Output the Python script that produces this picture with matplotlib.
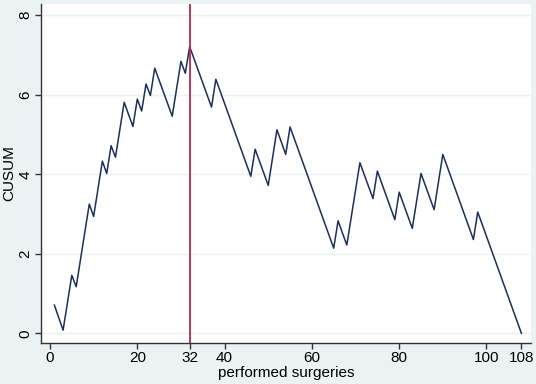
import matplotlib.pyplot as plt

# Turning points of the CUSUM curve
surgery = [1, 3, 5, 6, 9, 10, 12, 13, 14, 15, 17, 19, 20, 21, 22, 23, 24, 28, 30, 31, 32,
           37, 38, 46, 47, 50, 52, 54, 55, 65, 66, 68, 71, 74, 75, 79, 80, 83, 85, 88, 90,
           97, 98, 108]
cusum = [0.71, 0.08, 1.46, 1.17, 3.25, 2.94, 4.33, 4.02, 4.72, 4.43, 5.81, 5.20, 5.89, 5.59,
         6.27, 5.98, 6.67, 5.46, 6.84, 6.54, 7.21,
         5.69, 6.39, 3.95, 4.63, 3.72, 5.12, 4.50, 5.19, 2.14, 2.83, 2.22, 4.29, 3.39, 4.08,
         2.86, 3.55, 2.64, 4.02, 3.11, 4.50, 2.36, 3.05, 0.0]
cut_point = 32
x_ticks = [0, 20, 32, 40, 60, 80, 100, 108]
y_ticks = [0, 2, 4, 6, 8]

plt.rcParams['font.family'] = ['Liberation Sans', 'DejaVu Sans']

fig = plt.figure(figsize=(5.36, 3.84), dpi=100, facecolor='#eaf2f3')
ax = fig.add_axes([41 / 536, 1 - 342.7 / 384, 490 / 536, 339 / 384])
ax.set_facecolor('white')

ax.plot(surgery, cusum, color='#1b2f5c', lw=1.1, zorder=3)
ax.axvline(cut_point, color='#b5284a', lw=1.3, zorder=4)

ax.set_xlim(-2.06, 110.2)
ax.set_ylim(-0.236, 8.29)
ax.set_xticks(x_ticks)
ax.set_yticks(y_ticks)
ax.set_yticklabels([str(v) for v in y_ticks], rotation=90, va='center')
ax.grid(axis='y', color='#eaf2f3', lw=1.0)
ax.set_axisbelow(True)

for s in ['top', 'right']:
    ax.spines[s].set_visible(False)
for s in ['left', 'bottom']:
    ax.spines[s].set_color('#333333')
    ax.spines[s].set_linewidth(1.0)
ax.tick_params(length=4, width=1, color='#333333', labelsize=11, pad=2)

ax.set_xlabel('performed surgeries', fontsize=11, labelpad=1)
ax.set_ylabel('CUSUM', fontsize=11, labelpad=2)

fig.savefig('out.png', dpi=100, facecolor=fig.get_facecolor())
